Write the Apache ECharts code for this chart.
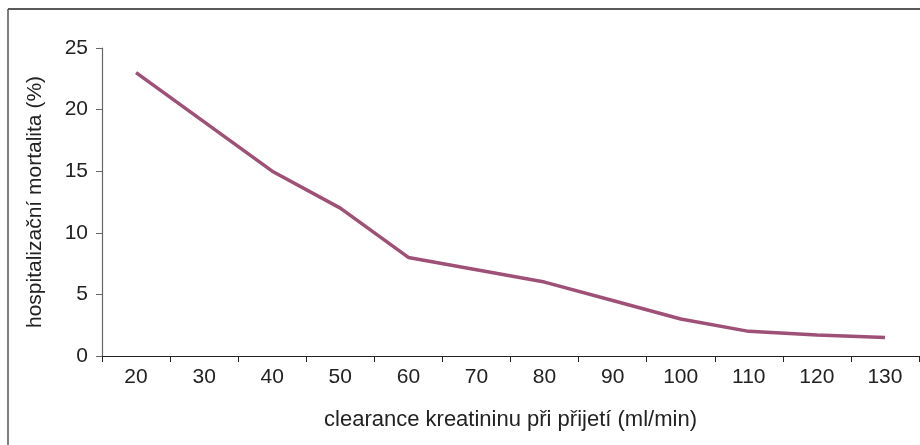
<!DOCTYPE html>
<html>
<head>
<meta charset="utf-8">
<script src="https://cdn.jsdelivr.net/npm/echarts@6/dist/echarts.min.js"></script>
<style>html,body{margin:0;padding:0;background:#fff}#c{width:920px;height:445px}</style>
</head>
<body>
<div id="c"></div>
<script>
const categories = ['20','30','40','50','60','70','80','90','100','110','120','130'];
const mortality = [23, 19, 15, 12, 8, 7, 6, 4.5, 3, 2, 1.7, 1.5];
const yTicks = [0, 5, 10, 15, 20, 25];
const xName = 'clearance kreatininu při přijetí (ml/min)';
const yName = 'hospitalizační mortalita (%)';

const chart = echarts.init(document.getElementById('c'));
const font = 'Liberation Sans, Arial, Helvetica, sans-serif';
chart.setOption({
  animation: false,
  grid: {left: 102, right: 1, top: 48, bottom: 89, containLabel: false},
  graphic: [
    {type: 'line', shape: {x1: 8, y1: 9, x2: 920, y2: 9}, style: {stroke: '#222', lineWidth: 1.5}},
    {type: 'line', shape: {x1: 8, y1: 9, x2: 8, y2: 445}, style: {stroke: '#555', lineWidth: 1.5}}
  ],
  xAxis: {
    type: 'category',
    data: categories,
    boundaryGap: true,
    name: xName,
    nameLocation: 'middle',
    nameGap: 53,
    nameTextStyle: {fontFamily: font, fontSize: 22, color: '#222'},
    axisLine: {lineStyle: {color: '#222', width: 1.2}},
    axisTick: {show: true, length: 6, lineStyle: {color: '#222'}},
    axisLabel: {fontFamily: font, fontSize: 21, color: '#222', margin: 11}
  },
  yAxis: {
    type: 'value',
    min: yTicks[0],
    max: yTicks[yTicks.length - 1],
    interval: 5,
    name: yName,
    nameLocation: 'middle',
    nameGap: 56,
    nameTextStyle: {fontFamily: font, fontSize: 21, color: '#222'},
    axisLine: {show: true, lineStyle: {color: '#666', width: 1.2}},
    axisTick: {show: true, length: 6, lineStyle: {color: '#666'}},
    axisLabel: {fontFamily: font, fontSize: 21, color: '#222', margin: 14},
    splitLine: {show: false}
  },
  series: [{
    type: 'line',
    data: mortality,
    symbol: 'none',
    lineStyle: {color: '#9e5077', width: 3.5}
  }]
});
</script>
</body>
</html>
